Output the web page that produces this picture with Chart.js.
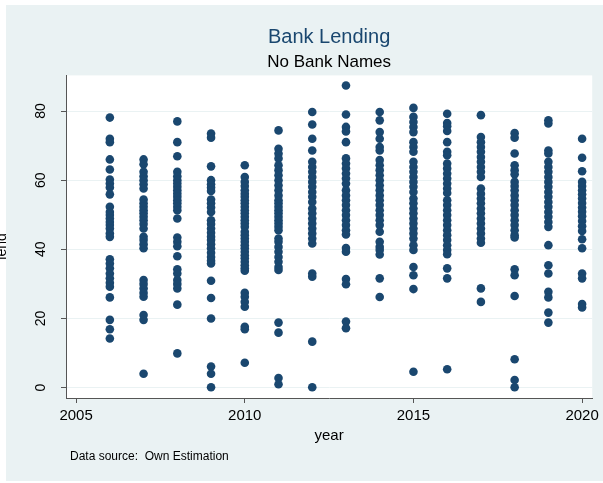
<!DOCTYPE html>
<html>
<head>
<meta charset="utf-8">
<title>Bank Lending</title>
<script src="https://cdn.jsdelivr.net/npm/chart.js@4"></script>
<style>
  html, body { margin: 0; padding: 0; background: #fff; }
  canvas { display: block; }
</style>
</head>
<body>
<canvas id="lending" width="603" height="483"></canvas>
<script>
// lending per bank, grouped by year
const years = [2006, 2007, 2008, 2009, 2010, 2011, 2012, 2013, 2014, 2015, 2016, 2017, 2018, 2019, 2020];

const lend2006 = [78.1, 72.0, 71.0, 66.0, 63.1, 60.2, 59.0, 57.9, 55.9, 52.3, 50.8, 49.9, 48.9, 47.9, 47.0, 46.0, 44.6, 43.6, 37.1, 35.9, 34.5, 33.0, 31.6, 30.3, 29.2, 26.1, 19.6, 16.9, 14.2];
const lend2007 = [66.0, 64.6, 62.4, 61.1, 60.0, 58.8, 57.6, 54.4, 53.3, 52.3, 51.3, 50.4, 49.4, 48.4, 47.3, 46.0, 43.6, 42.7, 41.5, 40.3, 31.1, 30.0, 28.7, 27.4, 26.3, 21.0, 19.6, 4.0];
const lend2008 = [77.0, 71.0, 66.9, 62.4, 61.1, 60.0, 59.0, 58.1, 57.1, 56.1, 55.2, 54.2, 53.3, 52.3, 51.3, 48.9, 43.4, 42.2, 40.9, 38.0, 34.2, 33.0, 31.1, 30.0, 28.7, 24.0, 9.9];
const lend2009 = [73.5, 72.3, 64.0, 60.0, 58.8, 57.9, 56.9, 54.4, 53.3, 52.1, 50.8, 48.4, 47.3, 46.0, 44.8, 43.6, 42.7, 41.5, 40.3, 39.0, 37.8, 36.7, 35.9, 30.9, 25.9, 20.0, 6.1, 4.0, 0.1];
const lend2010 = [64.3, 60.9, 59.5, 58.3, 57.1, 56.1, 55.2, 54.2, 53.3, 52.3, 51.3, 50.4, 49.4, 48.4, 47.5, 46.5, 45.1, 44.1, 43.1, 42.2, 41.2, 40.3, 39.3, 38.3, 37.4, 36.4, 35.4, 34.5, 33.8, 27.4, 26.3, 24.8, 23.4, 17.6, 16.9, 7.2];
const lend2011 = [74.4, 69.1, 67.7, 66.3, 64.3, 62.9, 61.4, 60.0, 58.5, 57.1, 55.6, 54.2, 53.3, 52.3, 51.3, 50.4, 49.4, 48.4, 47.5, 46.5, 45.5, 43.1, 42.2, 40.7, 39.3, 37.8, 36.4, 34.9, 34.0, 18.8, 15.9, 2.8, 1.0];
const lend2012 = [79.7, 76.1, 72.0, 68.6, 65.3, 63.8, 62.4, 60.9, 59.5, 58.1, 56.6, 55.2, 53.7, 51.8, 50.4, 48.9, 47.5, 46.0, 44.6, 43.1, 41.7, 33.0, 32.1, 13.3, 0.1];
const lend2013 = [87.4, 79.0, 75.4, 74.1, 71.0, 66.3, 64.8, 63.4, 61.9, 60.5, 59.0, 57.1, 55.6, 54.2, 52.8, 51.3, 49.9, 48.4, 47.0, 45.5, 44.3, 40.4, 39.3, 31.4, 29.9, 19.1, 17.2];
const lend2014 = [79.7, 77.3, 73.9, 72.0, 69.6, 68.6, 65.8, 64.3, 62.9, 61.4, 60.0, 58.5, 57.1, 55.6, 54.2, 52.8, 51.3, 49.9, 48.4, 47.0, 45.1, 42.2, 40.7, 39.8, 38.5, 31.6, 26.2];
const lend2015 = [80.9, 78.3, 76.8, 75.4, 73.9, 71.0, 69.6, 68.2, 65.3, 63.8, 62.4, 60.9, 59.5, 58.1, 56.6, 54.7, 53.3, 51.8, 50.4, 48.9, 47.5, 46.0, 44.6, 43.1, 41.2, 39.8, 34.9, 32.5, 28.5, 4.6];
const lend2016 = [79.2, 76.5, 75.6, 74.2, 71.0, 68.2, 67.2, 64.8, 63.4, 61.9, 60.5, 59.0, 57.6, 56.3, 54.2, 52.8, 51.3, 49.9, 48.4, 47.0, 45.5, 44.1, 42.7, 41.2, 39.8, 38.6, 34.5, 31.6, 5.3];
const lend2017 = [78.8, 72.5, 71.0, 69.6, 68.2, 66.7, 65.3, 63.8, 62.4, 60.9, 57.6, 56.1, 54.7, 53.3, 51.8, 50.4, 48.9, 47.5, 46.0, 44.6, 43.1, 41.9, 28.7, 24.8];
const lend2018 = [73.6, 72.3, 67.7, 64.3, 62.9, 61.7, 59.5, 58.3, 57.1, 55.6, 54.2, 52.8, 51.3, 49.9, 48.4, 47.0, 45.5, 44.1, 43.4, 34.2, 32.5, 26.5, 8.2, 2.2, 0.1];
const lend2019 = [77.3, 76.4, 68.6, 67.7, 65.3, 63.8, 62.4, 60.9, 59.5, 58.1, 56.6, 55.2, 53.7, 52.3, 50.8, 49.4, 47.9, 46.5, 41.2, 35.4, 33.0, 27.7, 26.1, 21.7, 18.8];
const lend2020 = [72.0, 66.5, 62.6, 59.5, 58.3, 57.1, 55.9, 54.7, 53.4, 52.1, 50.9, 49.6, 48.2, 46.7, 45.3, 42.9, 40.3, 33.0, 31.6, 24.2, 23.2];

const lendByYear = [lend2006, lend2007, lend2008, lend2009, lend2010, lend2011, lend2012, lend2013,
  lend2014, lend2015, lend2016, lend2017, lend2018, lend2019, lend2020];

const yearTicks = [2005, 2010, 2015, 2020];
const lendTicks = [0, 20, 40, 60, 80];

const NAVY = '#1a476f';
const PANEL = '#eaf2f3';
const AXIS = '#555';
const FONT = "'Liberation Sans', Arial, Helvetica, sans-serif";

function buildPoints () {
  const points = [];
  years.forEach((year, i) => {
    lendByYear[i].forEach((lend) => points.push({ x: year, y: lend }));
  });
  return points;
}

// grey graph region, white plot region, note under the axis
const stataFrame = {
  id: 'stataFrame',
  beforeDraw (chart) {
    const { ctx, chartArea } = chart;
    ctx.save();
    ctx.fillStyle = '#fff';
    ctx.fillRect(0, 0, chart.width, chart.height);
    ctx.fillStyle = PANEL;
    ctx.fillRect(6, 5, chart.width - 6, chart.height - 7);
    ctx.fillStyle = '#fff';
    ctx.fillRect(chartArea.left, chartArea.top, chartArea.right - chartArea.left, chartArea.bottom - chartArea.top);
    ctx.restore();
  },
  afterDraw (chart) {
    const ctx = chart.ctx;
    ctx.save();
    ctx.fillStyle = '#000';
    ctx.font = `12px ${FONT}`;
    ctx.textAlign = 'left';
    ctx.textBaseline = 'middle';
    ctx.fillText('Data source:  Own Estimation', 70, 457);
    ctx.restore();
  }
};

const ctx = document.getElementById('lending');
const lendingChart = new Chart(ctx, {
  type: 'scatter',
  data: {
    datasets: [{
      label: 'lend',
      data: buildPoints(),
      backgroundColor: NAVY,
      borderColor: NAVY,
      borderWidth: 0,
      pointRadius: 4.3,
      pointHoverRadius: 4.3
    }]
  },
  options: {
    responsive: false,
    animation: false,
    devicePixelRatio: 1,
    layout: { padding: { top: 5, right: 10, bottom: 0, left: 0 } },
    plugins: {
      legend: { display: false },
      tooltip: { enabled: false },
      title: {
        display: true,
        text: 'Bank Lending',
        fullSize: false,
        color: NAVY,
        font: { family: FONT, size: 20, weight: 'normal' },
        padding: { top: 20, bottom: 3 }
      },
      subtitle: {
        display: true,
        text: 'No Bank Names',
        fullSize: false,
        color: '#000',
        font: { family: FONT, size: 17, weight: 'normal' },
        padding: { top: 0, bottom: 3 }
      }
    },
    scales: {
      x: {
        type: 'linear',
        min: 2004.7,
        max: 2020.3,
        afterFit: (scale) => { scale.height = 85; },
        afterBuildTicks: (scale) => { scale.ticks = yearTicks.map((v) => ({ value: v })); },
        border: { display: true, color: AXIS, width: 1 },
        grid: { drawOnChartArea: false, drawTicks: true, tickLength: 5, tickColor: AXIS },
        ticks: {
          color: '#000',
          padding: 4,
          maxRotation: 0,
          font: { family: FONT, size: 15 },
          callback: (v) => String(v)
        },
        title: {
          display: true,
          text: 'year',
          color: '#000',
          font: { family: FONT, size: 15 },
          padding: { top: 0, bottom: 38 }
        }
      },
      y: {
        type: 'linear',
        min: -3,
        max: 90.3,
        afterFit: (scale) => { scale.width = 66; },
        afterBuildTicks: (scale) => { scale.ticks = lendTicks.map((v) => ({ value: v })); },
        border: { display: true, color: AXIS, width: 1 },
        grid: { color: PANEL, lineWidth: 1, drawTicks: true, tickLength: 5, tickColor: AXIS },
        ticks: {
          color: '#000',
          padding: 12,
          minRotation: 90,
          maxRotation: 90,
          crossAlign: 'center',
          font: { family: FONT, size: 14 }
        },
        title: {
          display: true,
          // trailing spaces push the word a little below the middle
          text: 'lend     ',
          color: '#000',
          font: { family: FONT, size: 14 },
          padding: { top: -6, bottom: 0 }
        }
      }
    }
  },
  plugins: [stataFrame]
});
</script>
</body>
</html>
